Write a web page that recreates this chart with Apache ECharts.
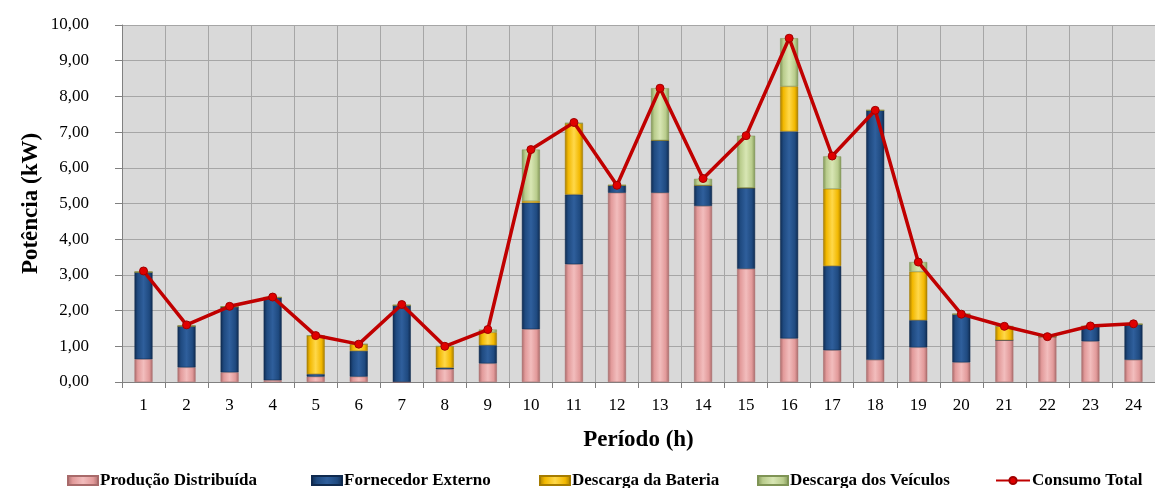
<!DOCTYPE html>
<html>
<head>
<meta charset="utf-8">
<script src="https://cdn.jsdelivr.net/npm/echarts@6/dist/echarts.min.js"></script>
<style>html,body{margin:0;padding:0;background:#fff}#c{width:1155px;height:488px}</style>
</head>
<body>
<div id="c"></div>
<script>
var categories = ['1','2','3','4','5','6','7','8','9','10','11','12','13','14','15','16','17','18','19','20','21','22','23','24'];
var producaoDistribuida = [0.64,0.41,0.27,0.05,0.15,0.15,0,0.36,0.52,1.48,3.30,5.30,5.30,4.93,3.17,1.22,0.89,0.62,0.97,0.55,1.17,1.27,1.14,0.62];
var fornecedorExterno = [2.44,1.16,1.84,2.32,0.07,0.72,2.15,0.04,0.51,3.54,1.95,0.21,1.47,0.58,2.27,5.80,2.36,6.99,0.76,1.35,0,0,0.42,1.00];
var descargaBateria = [0,0,0,0,1.08,0.19,0,0.60,0.36,0.05,2.00,0,0,0,0,1.26,2.16,0,1.36,0,0.39,0,0,0];
var descargaVeiculos = [0,0,0,0,0,0,0,0,0.08,1.44,0,0,1.46,0.18,1.46,1.35,0.91,0,0.27,0,0,0,0,0];
var consumoTotal = [3.11,1.60,2.12,2.38,1.30,1.06,2.17,1.00,1.47,6.51,7.27,5.51,8.23,5.70,6.90,9.63,6.33,7.61,3.36,1.90,1.56,1.27,1.57,1.63];
var yTicks = {min:0, max:10, interval:1};

function bevel(dark, mid, light){
  return new echarts.graphic.LinearGradient(0,0,1,0,[
    {offset:0,color:dark},{offset:0.18,color:mid},{offset:0.5,color:light},{offset:0.82,color:mid},{offset:1,color:dark}
  ]);
}
var serif = '"Liberation Serif","DejaVu Serif",serif';
var chart = echarts.init(document.getElementById('c'));
function barSeries(name, data, dark, mid, light){
  return {name:name, type:'bar', stack:'total', data:data, barWidth:18,
    itemStyle:{color:bevel(dark,mid,light), borderColor:dark, borderWidth:0.5},
    emphasis:{disabled:true}};
}
function legendAt(left, name, w, icon){
  var d = {name:name};
  if (icon) d.icon = icon;
  return {left:left, top:467, data:[d], itemWidth:w||30, itemHeight:9, itemGap:0,
    textStyle:{fontFamily:serif, fontWeight:'bold', fontSize:17, color:'#000', padding:[0,0,0,-3]}};
}
chart.setOption({
  animation:false,
  backgroundColor:'#fff',
  grid:{left:122, top:25, width:1046, height:357, show:true, backgroundColor:'#D9D9D9', borderWidth:0},
  legend:[
    legendAt(62,'Produção Distribuída',30,'rect'),
    legendAt(306,'Fornecedor Externo',30,'rect'),
    legendAt(534,'Descarga da Bateria',30,'rect'),
    legendAt(752,'Descarga dos Veículos',30,'rect'),
    legendAt(990,'Consumo Total',34)
  ],
  xAxis:{type:'category', data:categories, name:'Período (h)', nameLocation:'middle', nameGap:47,
    nameTextStyle:{fontFamily:serif, fontWeight:'bold', fontSize:23, color:'#000'},
    axisLine:{lineStyle:{color:'#808080'}},
    axisTick:{show:true, length:6, lineStyle:{color:'#808080'}},
    axisLabel:{fontFamily:serif, fontSize:17, color:'#000', margin:15},
    splitLine:{show:true, lineStyle:{color:'#A6A6A6', width:1}}},
  yAxis:{type:'value', min:yTicks.min, max:yTicks.max, interval:yTicks.interval,
    name:'Potência (kW)', nameLocation:'middle', nameGap:79, nameRotate:90, nameMoveOverlap:false,
    nameTextStyle:{fontFamily:serif, fontWeight:'bold', fontSize:23, color:'#000'},
    axisLine:{show:true, lineStyle:{color:'#808080'}},
    axisTick:{show:true, length:7, lineStyle:{color:'#808080'}},
    axisLabel:{fontFamily:serif, fontSize:17, color:'#000', margin:33,
      formatter:function(v){return v.toFixed(2).replace('.',',');}},
    splitLine:{show:true, lineStyle:{color:'#A6A6A6', width:1}}},
  series:[
    barSeries('Produção Distribuída', producaoDistribuida, '#A86A6A', '#E29A9A', '#F2BDBD'),
    barSeries('Fornecedor Externo', fornecedorExterno, '#0F2A4F', '#1F4A80', '#2F5F9C'),
    barSeries('Descarga da Bateria', descargaBateria, '#A67C00', '#F2B800', '#FFD84A'),
    barSeries('Descarga dos Veículos', descargaVeiculos, '#7F9455', '#B9CC8C', '#D8E6B4'),
    {name:'Consumo Total', type:'line', data:consumoTotal, z:5,
      lineStyle:{color:'#C00000', width:3.5},
      itemStyle:{color:'#E00000', borderColor:'#A00000', borderWidth:1},
      symbol:'circle', symbolSize:8, emphasis:{disabled:true}}
  ]
});
</script>
</body>
</html>
